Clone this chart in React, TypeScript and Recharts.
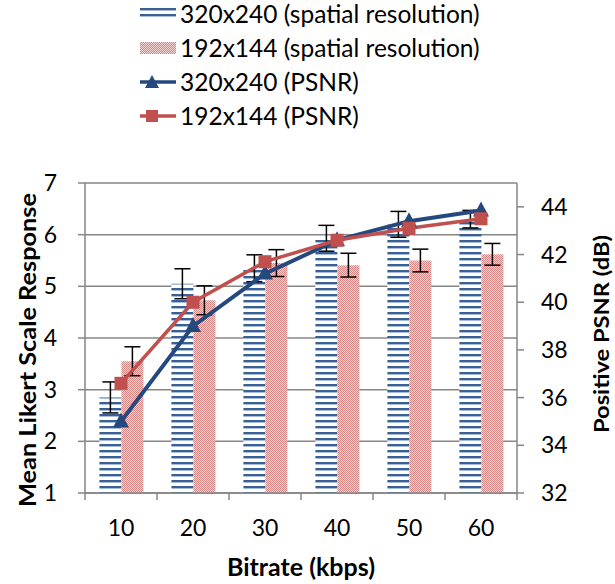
import React from 'react';
import {ComposedChart, Bar, Line, XAxis, YAxis, CartesianGrid, ErrorBar, Legend, Label} from 'recharts';

// bitrate categories (kbps)
const bitrates = ['10', '20', '30', '40', '50', '60'];

// mean likert scale response (bars) and their error bar half-widths
const mos320 = [2.85, 5.05, 5.35, 5.93, 6.2, 6.3];
const mos192 = [3.55, 4.73, 5.45, 5.41, 5.5, 5.62];
const err320 = [0.3, 0.29, 0.26, 0.25, 0.25, 0.17];
const err192 = [0.28, 0.28, 0.26, 0.23, 0.22, 0.21];

// positive PSNR in dB (lines, right axis)
const psnr320 = [35.0, 39.0, 41.2, 42.6, 43.4, 43.85];
const psnr192 = [36.6, 40.0, 41.7, 42.6, 43.1, 43.5];

const leftTicks = [1, 2, 3, 4, 5, 6, 7];
const rightTicks = [32, 34, 36, 38, 40, 42, 44];

const data = bitrates.map((b, i) => ({
    cat: b,
    mos320: mos320[i],
    mos192: mos192[i],
    err320: err320[i],
    err192: err192[i],
    psnr320: psnr320[i],
    psnr192: psnr192[i],
}));

const BLUE = '#25497f';
const RED = '#c0504d';
const GRAY = '#868686';
const FONT = 'Lato, "Open Sans", sans-serif';

const legendItems = [
    {name: '320x240 (spatial resolution)', kind: 'stripe'},
    {name: '192x144 (spatial resolution)', kind: 'check'},
    {name: '320x240 (PSNR)', kind: 'tri'},
    {name: '192x144 (PSNR)', kind: 'sq'},
];

function LegendIcon({kind}: { kind: string }) {
    if (kind === 'stripe') {
        return (
            <svg width={36} height={14}>
                <rect x={0} y={1} width={36} height={12} fill="url(#stripeLegend)"/>
            </svg>
        );
    }
    if (kind === 'check') {
        return (
            <svg width={36} height={14}>
                <rect x={0} y={1} width={36} height={12} fill="url(#checkFill)"/>
            </svg>
        );
    }
    const color = kind === 'tri' ? BLUE : RED;
    return (
        <svg width={36} height={16}>
            <line x1={0} y1={8} x2={36} y2={8} stroke={color} strokeWidth={3.5}/>
            {kind === 'tri'
                ? <polygon points="12,1 19,14 5,14" fill={color}/>
                : <rect x={6} y={2} width={12} height={12} fill={color}/>}
        </svg>
    );
}

function renderLegend() {
    return (
        <div style={{fontFamily: FONT, fontSize: 24.5, color: '#000', lineHeight: 1}}>
            {legendItems.map((it) => (
                <div key={it.name} style={{display: 'flex', alignItems: 'center', height: 34}}>
                    <LegendIcon kind={it.kind}/>
                    <span style={{marginLeft: 4, whiteSpace: 'nowrap'}}>{it.name}</span>
                </div>
            ))}
        </div>
    );
}

function Triangle(props: any) {
    const {cx, cy} = props;
    if (cx == null || cy == null) return <g/>;
    return <polygon points={`${cx},${cy - 9} ${cx + 8},${cy + 6} ${cx - 8},${cy + 6}`} fill={BLUE}/>;
}

function Square(props: any) {
    const {cx, cy} = props;
    if (cx == null || cy == null) return <g/>;
    return <rect x={cx - 6.5} y={cy - 6.5} width={13} height={13} fill={RED}/>;
}

// category tick: label at band centre, tick marks at band edges (Excel style)
function CatTick(props: any) {
    const {x, y, payload, index, width, visibleTicksCount} = props;
    const n = visibleTicksCount || bitrates.length;
    const half = (width || 432) / n / 2;
    return (
        <g>
            <line x1={x - half} y1={y} x2={x - half} y2={y + 7} stroke={GRAY} strokeWidth={1.5}/>
            {index === n - 1 && <line x1={x + half} y1={y} x2={x + half} y2={y + 7} stroke={GRAY} strokeWidth={1.5}/>}
            <text x={x} y={y + 43} textAnchor="middle" fontFamily={FONT} fontSize={23} fill="#000">{payload.value}</text>
        </g>
    );
}

// rotated axis title, placed relative to the axis box
function VTitle(props: any) {
    const {viewBox, value, dx, dy, size, len} = props;
    const cx = viewBox.x + dx;
    const cy = viewBox.y + viewBox.height / 2 + dy;
    return (
        <text x={cx} y={cy} transform={`rotate(-90, ${cx}, ${cy})`} textAnchor="middle" dominantBaseline="central"
              textLength={len} lengthAdjust="spacingAndGlyphs"
              fontFamily={FONT} fontSize={size} fontWeight={700} fill="#000">{value}</text>
    );
}

function XTitle(props: any) {
    const {viewBox, value} = props;
    const cx = viewBox.x + viewBox.width / 2;
    return (
        <text x={cx} y={viewBox.y + 83} textAnchor="middle" textLength={148} lengthAdjust="spacingAndGlyphs"
              fontFamily={FONT} fontSize={24} fontWeight={700} fill="#000">{value}</text>
    );
}

export default function App() {
    return (
        <div style={{position: 'absolute', left: 0, top: 0, width: 615, height: 584, background: '#fff'}}>
            <ComposedChart width={615} height={584} data={data}
                           margin={{top: 183, right: 38, left: 24, bottom: 0}}
                           barCategoryGap="20%" barGap={0}>
                <defs>
                    <pattern id="stripeFill" width={6} height={6} patternUnits="userSpaceOnUse">
                        <rect width={6} height={6} fill="#fff"/>
                        <rect y={0} width={6} height={2} fill="#3a5f96"/>
                        <rect y={2} width={6} height={1} fill="#a9bcd8"/>
                    </pattern>
                    <pattern id="stripeLegend" width={6} height={6} patternUnits="userSpaceOnUse">
                        <rect width={6} height={6} fill="#fff"/>
                        <rect y={1} width={6} height={2} fill="#3a5f96"/>
                        <rect y={3} width={6} height={1} fill="#a9bcd8"/>
                    </pattern>
                    <pattern id="checkFill" width={2} height={2} patternUnits="userSpaceOnUse">
                        <rect width={2} height={2} fill="#f3d6d5"/>
                        <rect x={0} y={0} width={1} height={1} fill="#d88482"/>
                        <rect x={1} y={1} width={1} height={1} fill="#d88482"/>
                    </pattern>
                </defs>
                <CartesianGrid yAxisId="left" vertical={false} stroke={GRAY} strokeWidth={1.5}/>
                <XAxis dataKey="cat" height={91} axisLine={{stroke: GRAY, strokeWidth: 1.5}}
                       tickLine={false} tickSize={0} tickMargin={0} tick={<CatTick/>} interval={0}>
                    <Label value="Bitrate (kbps)" content={(p: any) => <XTitle {...p} value="Bitrate (kbps)"/>}/>
                </XAxis>
                <YAxis yAxisId="left" domain={[1, 7]} ticks={leftTicks} width={61} interval={0}
                       axisLine={{stroke: GRAY, strokeWidth: 1.5}} tickLine={{stroke: GRAY, strokeWidth: 1.5}}
                       tickSize={7} tickMargin={21}
                       tick={{fontFamily: FONT, fontSize: 23, fill: '#000'}}>
                    <Label value="Mean Likert Scale Response"
                           content={(p: any) => <VTitle {...p} value="Mean Likert Scale Response"
                                                        dx={2.5} dy={12} size={23} len={314}/>}/>
                </YAxis>
                <YAxis yAxisId="right" orientation="right" domain={[32, 45]} ticks={rightTicks} width={60} interval={0}
                       axisLine={{stroke: GRAY, strokeWidth: 1.5}} tickLine={{stroke: GRAY, strokeWidth: 1.5}}
                       tickSize={7} tickMargin={17}
                       tick={{fontFamily: FONT, fontSize: 23, fill: '#000'}}>
                    <Label value="Positive PSNR (dB)"
                           content={(p: any) => <VTitle {...p} value="Positive PSNR (dB)"
                                                        dx={83} dy={-4} size={21} len={198}/>}/>
                </YAxis>
                <Legend layout="vertical" verticalAlign="middle" align="center" content={renderLegend}
                        wrapperStyle={{top: -3, left: 140, width: 420, height: 140}}/>
                <Bar yAxisId="left" dataKey="mos320" name="320x240 (spatial resolution)" fill="url(#stripeFill)"
                     isAnimationActive={false}>
                    <ErrorBar dataKey="err320" width={8} stroke="#000" strokeWidth={1.5}/>
                </Bar>
                <Bar yAxisId="left" dataKey="mos192" name="192x144 (spatial resolution)" fill="url(#checkFill)"
                     isAnimationActive={false}>
                    <ErrorBar dataKey="err192" width={8} stroke="#000" strokeWidth={1.5}/>
                </Bar>
                <Line yAxisId="right" dataKey="psnr320" name="320x240 (PSNR)" stroke={BLUE} strokeWidth={4}
                      dot={<Triangle/>} activeDot={false} isAnimationActive={false}/>
                <Line yAxisId="right" dataKey="psnr192" name="192x144 (PSNR)" stroke={RED} strokeWidth={3.5}
                      dot={<Square/>} activeDot={false} isAnimationActive={false}/>
            </ComposedChart>
        </div>
    );
}
